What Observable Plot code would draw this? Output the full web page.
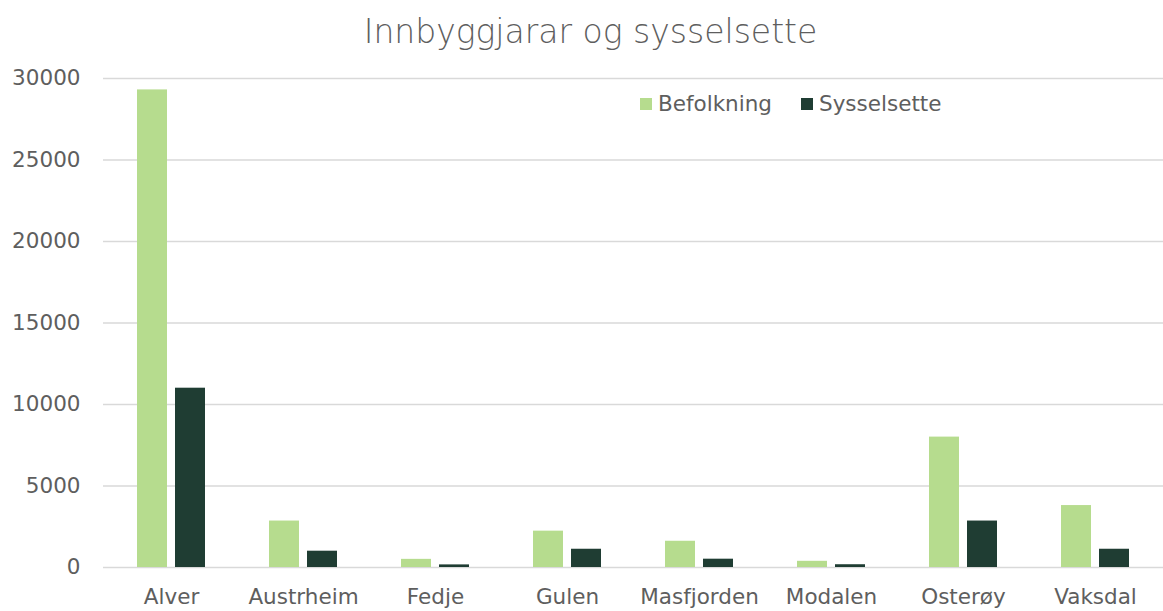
<!DOCTYPE html>
<html>
<head>
<meta charset="utf-8">
<script src="https://cdn.jsdelivr.net/npm/d3@7"></script>
<script src="https://cdn.jsdelivr.net/npm/@observablehq/plot@0.6"></script>
<style>
  body { margin: 0; background: #fff; font-family: "DejaVu Sans", sans-serif; }
  #wrap { position: relative; width: 1163px; height: 611px; }
  #title { height: 60px; line-height: 64px; text-align: center; font-size: 33px; color: #5e5e5e; padding-left: 18px; box-sizing: border-box; width: 1163px; font-weight: 300; }
  #legend { position: absolute; top: 91px; left: 640px; font-size: 21.5px; color: #5e5e5e; display: flex; align-items: center; }
  #legend span.sw { display: inline-block; width: 12px; height: 12px; margin-right: 6px; }
  #legend span.item { display: inline-flex; align-items: center; margin-right: 29px; }
</style>
</head>
<body>
<div id="wrap">
  <div id="title">Innbyggjarar og sysselsette</div>
  <div id="chart"></div>
  <div id="legend"></div>
</div>
<script>
const categories = ["Alver", "Austrheim", "Fedje", "Gulen", "Masfjorden", "Modalen", "Osterøy", "Vaksdal"];
const befolkning = [29300, 2850, 500, 2230, 1610, 380, 8000, 3800];
const sysselsette = [11000, 1000, 160, 1120, 510, 170, 2850, 1120];
const seriesNames = ["Befolkning", "Sysselsette"];
const seriesColors = ["#b6dc8e", "#1f3d33"];
const yTicks = [0, 5000, 10000, 15000, 20000, 25000, 30000];

const dataB = categories.map((c, i) => ({category: c, value: befolkning[i]}));
const dataS = categories.map((c, i) => ({category: c, value: sysselsette[i]}));

const chart = Plot.plot({
  width: 1163,
  height: 551,
  marginTop: 18,
  marginBottom: 44,
  marginLeft: 103,
  marginRight: 0,
  style: {fontFamily: "'DejaVu Sans', sans-serif", fontSize: "21.5px", color: "#5e5e5e"},
  x: {domain: categories, paddingInner: 0.774, paddingOuter: 0.387, align: 0.5, label: null, tickSize: 0, tickPadding: 21},
  y: {domain: [0, 30000], ticks: yTicks, label: null, tickSize: 0, tickPadding: 23, tickFormat: d => String(d)},
  marks: [
    Plot.ruleY(yTicks, {stroke: "#d9d9d9", strokeWidth: 1.3}),
    Plot.barY(dataB, {x: "category", y: "value", fill: seriesColors[0], dx: -19}),
    Plot.barY(dataS, {x: "category", y: "value", fill: seriesColors[1], dx: 19})
  ]
});
document.getElementById("chart").appendChild(chart);

const legend = document.getElementById("legend");
seriesNames.forEach((n, i) => {
  const item = document.createElement("span");
  item.className = "item";
  const sw = document.createElement("span");
  sw.className = "sw";
  sw.style.background = seriesColors[i];
  item.appendChild(sw);
  item.appendChild(document.createTextNode(n));
  legend.appendChild(item);
});
</script>
</body>
</html>
